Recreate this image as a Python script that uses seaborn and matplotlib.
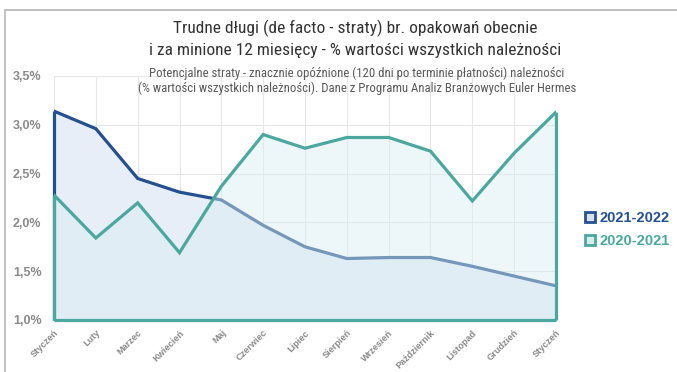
import matplotlib
matplotlib.use("Agg")
import matplotlib.pyplot as plt
from matplotlib import font_manager
from matplotlib.lines import Line2D
import seaborn as sns
import pandas as pd

# --- data -------------------------------------------------------------
months = ["Styczeń", "Luty", "Marzec", "Kwiecień", "Maj", "Czerwiec", "Lipiec",
          "Sierpień", "Wrzesień", "Październik", "Listopad", "Grudzień", "Styczeń"]
series_2122 = [3.14, 2.96, 2.45, 2.31, 2.23, 1.97, 1.75, 1.63, 1.64, 1.64, 1.55, 1.45, 1.35]
series_2021 = [2.28, 1.84, 2.20, 1.69, 2.37, 2.90, 2.76, 2.87, 2.87, 2.73, 2.22, 2.71, 3.13]
label_2122 = "2021-2022"
label_2021 = "2020-2021"
y_ticks = [1.0, 1.5, 2.0, 2.5, 3.0, 3.5]

title = ("Trudne długi (de facto - straty) br. opakowań obecnie\n"
         "i za minione 12 miesięcy - % wartości wszystkich należności")
subtitle = ("Potencjalne straty - znacznie opóźnione (120 dni po terminie płatności) należności\n"
            "(% wartości wszystkich należności). Dane z Programu Analiz Branżowych Euler Hermes")

# --- style --------------------------------------------------------------
sns.set_theme(style="white")
installed = {f.name for f in font_manager.fontManager.ttflist}
narrow = next((f for f in ["Liberation Sans Narrow", "Roboto Condensed", "Open Sans Condensed"]
               if f in installed), "Liberation Sans")
plt.rcParams["font.family"] = ["Liberation Sans", "DejaVu Sans"]

NAVY = "#25508f"
TEAL = "#4aa89e"
NAVY_FILL = "#e7eef8"
TEAL_FILL = (0.85, 0.93, 0.94, 0.45)
GRID = "#e4e6e8"
TICK = "#8a8a8a"

df = pd.DataFrame({"pos": range(len(months)), "month": months,
                   label_2122: series_2122, label_2021: series_2021})

fig = plt.figure(figsize=(6.77, 3.72), dpi=100)
ax = fig.add_axes([54 / 677, 1 - 320 / 372, (556 - 54) / 677, (320 - 76) / 372])
base = y_ticks[0]
last = len(months) - 1

# 2021-2022 area
ax.fill_between(df["pos"], base, df[label_2122], color=NAVY_FILL, lw=0, zorder=1)
sns.lineplot(data=df, x="pos", y=label_2122, color=NAVY, lw=2.3, ax=ax, zorder=2,
             solid_joinstyle="miter")
ax.vlines(0, base, series_2122[0], color=NAVY, lw=2.3, zorder=2, clip_on=False)

# 2020-2021 area drawn on top, semi-transparent
ax.fill_between(df["pos"], base, df[label_2021], facecolor=TEAL_FILL, lw=0, zorder=3)
sns.lineplot(data=df, x="pos", y=label_2021, color=TEAL, lw=2.3, ax=ax, zorder=4,
             solid_joinstyle="miter")
ax.vlines([0, last], base, [series_2021[0], series_2021[-1]], color=TEAL, lw=2.3,
          zorder=4, clip_on=False)
ax.hlines(base, 0, last, color=TEAL, lw=2.3, zorder=4, clip_on=False)

# axes
ax.set_xlim(0, last)
ax.set_ylim(y_ticks[0], y_ticks[-1])
ax.set_yticks(y_ticks)
ax.set_yticklabels([f"{v:.1f}%".replace(".", ",") for v in y_ticks],
                   fontsize=9, fontweight="bold", color=TICK)
ax.set_xticks(df["pos"])
ax.set_xticklabels(months, rotation=45, ha="right", rotation_mode="anchor",
                   fontsize=6.6, fontweight="bold", color=TICK)
ax.tick_params(axis="y", length=0, pad=9)
ax.tick_params(axis="x", length=0, pad=6)
ax.set_xlabel("")
ax.set_ylabel("")
ax.grid(True, color=GRID, lw=0.8, zorder=0)
ax.set_axisbelow(True)
for s in ax.spines.values():
    s.set_visible(False)

# legend
handles = [Line2D([], [], ls="none", marker="s", markersize=7, markeredgewidth=2,
                  markeredgecolor=NAVY, markerfacecolor="#d6e0ef"),
           Line2D([], [], ls="none", marker="s", markersize=7, markeredgewidth=2,
                  markeredgecolor=TEAL, markerfacecolor="#d4eeea")]
fig.legend(handles, [label_2122, label_2021], loc="upper left",
           bbox_to_anchor=(572 / 677, 1 - 198 / 372), frameon=False,
           handlelength=0.7, handletextpad=0.3, labelspacing=0.6,
           prop={"weight": "bold", "size": 10.5}, labelcolor=[NAVY, TEAL])

# titles
fig.text(0.525, 1 - 39 / 372, title, ha="center", va="center", fontsize=12.5,
         color="#333333", family=[narrow, "DejaVu Sans"], linespacing=1.45)
fig.text(357 / 677, 1 - 81 / 372, subtitle, ha="center", va="center", fontsize=9.2,
         color="#595959", family=[narrow, "DejaVu Sans"], linespacing=1.2)

# outer frame (left and top edges)
fig.add_artist(Line2D([5 / 677, 5 / 677], [0, 1 - 10 / 372], color="#b5b5b5", lw=1.2,
                      transform=fig.transFigure))
fig.add_artist(Line2D([5 / 677, 1], [1 - 10 / 372, 1 - 10 / 372], color="#b5b5b5", lw=1.2,
                      transform=fig.transFigure))

fig.savefig("out.png", dpi=100, facecolor="white")
